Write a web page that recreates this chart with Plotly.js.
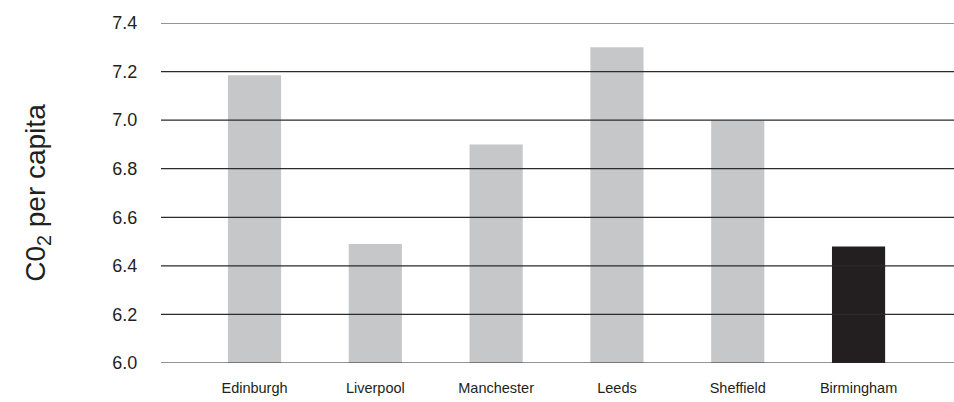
<!DOCTYPE html>
<html>
<head>
<meta charset="utf-8">
<script src="https://cdn.plot.ly/plotly-3.0.1.min.js"></script>
<style>
  html, body { margin: 0; padding: 0; background: #fff; }
  #chart { width: 954px; height: 402px; }
</style>
</head>
<body>
<div id="chart"></div>
<script>
// CO2 emissions per capita by city (tonnes)
const cities = ["Edinburgh", "Liverpool", "Manchester", "Leeds", "Sheffield", "Birmingham"];
const co2PerCapita = [7.185, 6.49, 6.9, 7.3, 7.0, 6.48];
const barColors = ["#c6c7c9", "#c6c7c9", "#c6c7c9", "#c6c7c9", "#c6c7c9", "#231f20"];
const yTicks = [6.0, 6.2, 6.4, 6.6, 6.8, 7.0, 7.2, 7.4];
const yTickText = ["6.0", "6.2", "6.4", "6.6", "6.8", "7.0", "7.2", "7.4"];

const font = "Liberation Sans, Arial, sans-serif";

// horizontal rules sit on top of the bars
const gridShapes = yTicks.map(v => ({
  type: "line", layer: "above",
  xref: "paper", x0: 0, x1: 1,
  yref: "y", y0: v, y1: v,
  line: { color: "#2b2b2b", width: 1.2 }
}));

const trace = {
  type: "bar",
  x: cities.map((_, i) => i),
  y: co2PerCapita,
  base: 0,
  width: 0.44,
  marker: { color: barColors, line: { width: 0 } },
  hoverinfo: "x+y"
};

const layout = {
  width: 954, height: 402,
  margin: { l: 161, r: 0, t: 23, b: 39 },
  paper_bgcolor: "#fff", plot_bgcolor: "#fff",
  showlegend: false,
  font: { family: font, color: "#231f20" },
  xaxis: {
    range: [-0.774, 5.79],
    tickmode: "array",
    tickvals: cities.map((_, i) => i),
    ticktext: cities,
    showgrid: false, zeroline: false, showline: false,
    ticks: "outside", ticklen: 12, tickcolor: "rgba(0,0,0,0)",
    tickfont: { family: font, size: 14.5, color: "#231f20" },
    fixedrange: true
  },
  yaxis: {
    range: [6.0, 7.4],
    tickmode: "array",
    tickvals: yTicks,
    ticktext: yTickText,
    showgrid: false, zeroline: false, showline: false,
    ticks: "outside", ticklen: 19, tickcolor: "rgba(0,0,0,0)",
    tickfont: { family: font, size: 18, color: "#231f20" },
    title: {
      text: "C0<sub>2</sub> per capita",
      font: { family: font, size: 28, color: "#231f20" },
      standoff: 58
    },
    automargin: false,
    fixedrange: true
  },
  shapes: gridShapes
};

Plotly.newPlot("chart", [trace], layout, { displayModeBar: false, staticPlot: true });
</script>
</body>
</html>
